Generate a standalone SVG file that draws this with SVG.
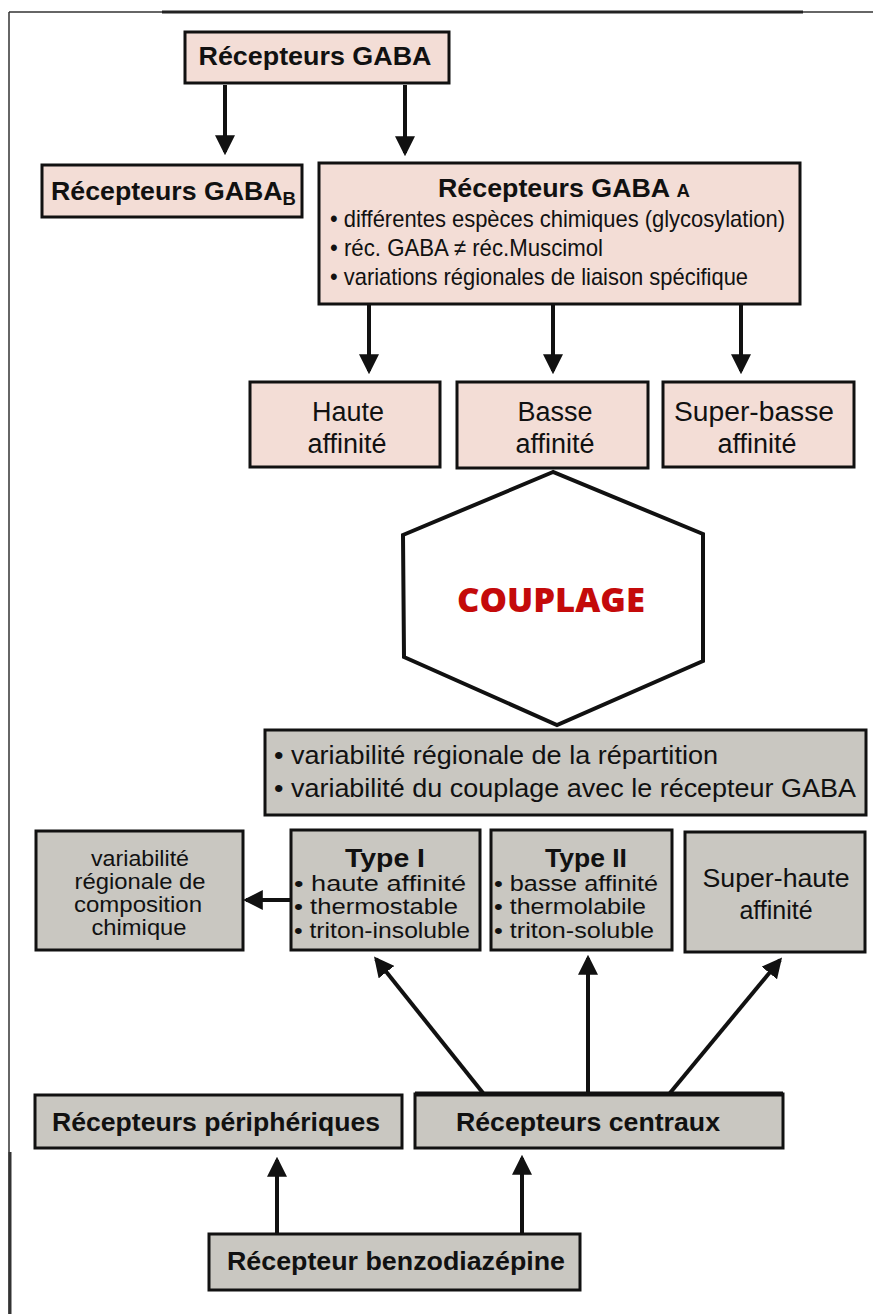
<svg xmlns="http://www.w3.org/2000/svg" width="873" height="1314" viewBox="0 0 873 1314">
<style>
.pink{fill:#f3ddd6;stroke:#111;stroke-width:3}
.gray{fill:#c9c7c1;stroke:#111;stroke-width:3}
.t{font-family:"Liberation Sans",Arial,sans-serif;fill:#111}
.b{font-weight:bold}
.c{text-anchor:middle}
.con{stroke:#111;stroke-width:4;fill:none}
</style>
<defs>
<marker id="ah" markerWidth="5" markerHeight="5" refX="4.2" refY="2.5" orient="auto" markerUnits="strokeWidth">
<path d="M0,0 L5,2.5 L0,5 Z" fill="#111"/>
</marker>
</defs>
<rect width="873" height="1314" fill="#fff"/>
<g id="frame">
<path d="M9,12 H873" stroke="#333" stroke-width="1.5" fill="none"/>
<path d="M162,12 H803" stroke="#222" stroke-width="3" fill="none"/>
<path d="M9,12 V1314" stroke="#333" stroke-width="1.5" fill="none"/>
<path d="M10,1152 V1314" stroke="#333" stroke-width="3" fill="none"/>
</g>
<g id="connectors">
<line class="con" x1="225" y1="85" x2="225" y2="152" marker-end="url(#ah)"/>
<line class="con" x1="405" y1="85" x2="405" y2="153" marker-end="url(#ah)"/>
<line class="con" x1="369" y1="305" x2="369" y2="371" marker-end="url(#ah)"/>
<line class="con" x1="553" y1="305" x2="553" y2="371" marker-end="url(#ah)"/>
<line class="con" x1="741" y1="305" x2="741" y2="371" marker-end="url(#ah)"/>
<line class="con" x1="291" y1="900" x2="246" y2="900" marker-end="url(#ah)"/>
<line class="con" x1="483" y1="1093" x2="376" y2="959" marker-end="url(#ah)"/>
<line class="con" x1="588" y1="1093" x2="588" y2="958" marker-end="url(#ah)"/>
<line class="con" x1="670" y1="1093" x2="780" y2="960" marker-end="url(#ah)"/>
<line class="con" x1="277" y1="1234" x2="277" y2="1160" marker-end="url(#ah)"/>
<line class="con" x1="522" y1="1234" x2="522" y2="1158" marker-end="url(#ah)"/>
</g>
<g id="gaba">
<rect class="pink" x="185" y="32" width="264" height="51"/>
<text class="t b c" x="315" y="65" font-size="25" textLength="233" lengthAdjust="spacingAndGlyphs">Récepteurs GABA</text>
</g>
<g id="gabab">
<rect class="pink" x="42" y="165" width="260" height="52"/>
<text class="t b" x="51" y="200" font-size="26" textLength="245" lengthAdjust="spacingAndGlyphs">Récepteurs GABA<tspan font-size="18" dy="5">B</tspan></text>
</g>
<g id="gabaa">
<rect class="pink" x="319" y="163" width="481" height="141"/>
<text class="t b" x="438" y="197" font-size="26" textLength="252" lengthAdjust="spacingAndGlyphs">Récepteurs GABA <tspan font-size="18">A</tspan></text>
<text class="t" x="330" y="227" font-size="24" textLength="455" lengthAdjust="spacingAndGlyphs">• différentes espèces chimiques (glycosylation)</text>
<text class="t" x="330" y="256" font-size="24" textLength="273" lengthAdjust="spacingAndGlyphs">• réc. GABA ≠ réc.Muscimol</text>
<text class="t" x="330" y="285" font-size="24" textLength="418" lengthAdjust="spacingAndGlyphs">• variations régionales de liaison spécifique</text>
</g>
<g id="haute">
<rect class="pink" x="250" y="382" width="190" height="85"/>
<text class="t c" x="348" y="421" font-size="27">Haute</text>
<text class="t c" x="347" y="453" font-size="27">affinité</text>
</g>
<g id="basse">
<rect class="pink" x="457" y="382" width="191" height="86"/>
<text class="t c" x="555" y="421" font-size="27">Basse</text>
<text class="t c" x="555" y="453" font-size="27">affinité</text>
</g>
<g id="superbasse">
<rect class="pink" x="663" y="382" width="191" height="85"/>
<text class="t c" x="754" y="421" font-size="27" textLength="160" lengthAdjust="spacingAndGlyphs">Super-basse</text>
<text class="t c" x="757" y="453" font-size="27">affinité</text>
</g>
<g id="couplage">
<polygon points="553,472 403,535 404,657 557,725 703,661 703,534" fill="#fff" stroke="#111" stroke-width="4"/>
<text x="551" y="612" text-anchor="middle" font-family="'Open Sans',sans-serif" font-weight="800" font-size="34" fill="#c40a0a" textLength="188" lengthAdjust="spacingAndGlyphs">COUPLAGE</text>
</g>
<g id="variabilite">
<rect class="gray" x="265" y="730" width="601" height="85"/>
<text class="t" x="274" y="764" font-size="25" textLength="444" lengthAdjust="spacingAndGlyphs">• variabilité régionale de la répartition</text>
<text class="t" x="274" y="797" font-size="25" textLength="582" lengthAdjust="spacingAndGlyphs">• variabilité du couplage avec le récepteur GABA</text>
</g>
<g id="composition">
<rect class="gray" x="36" y="831" width="207" height="119"/>
<text class="t c" x="140" y="866" font-size="22" textLength="98" lengthAdjust="spacingAndGlyphs">variabilité</text>
<text class="t c" x="140" y="889" font-size="22" textLength="131" lengthAdjust="spacingAndGlyphs">régionale de</text>
<text class="t c" x="138" y="912" font-size="22" textLength="128" lengthAdjust="spacingAndGlyphs">composition</text>
<text class="t c" x="139" y="935" font-size="22" textLength="95" lengthAdjust="spacingAndGlyphs">chimique</text>
</g>
<g id="type1">
<rect class="gray" x="291" y="830" width="189" height="120"/>
<text class="t b c" x="385" y="867" font-size="26" textLength="80" lengthAdjust="spacingAndGlyphs">Type I</text>
<text class="t" x="294" y="891" font-size="22" textLength="172" lengthAdjust="spacingAndGlyphs">• haute  affinité</text>
<text class="t" x="294" y="914" font-size="22" textLength="164" lengthAdjust="spacingAndGlyphs">• thermostable</text>
<text class="t" x="294" y="938" font-size="22" textLength="176" lengthAdjust="spacingAndGlyphs">• triton-insoluble</text>
</g>
<g id="type2">
<rect class="gray" x="491" y="830" width="181" height="120"/>
<text class="t b c" x="586" y="867" font-size="26" textLength="82" lengthAdjust="spacingAndGlyphs">Type II</text>
<text class="t" x="494" y="891" font-size="22" textLength="164" lengthAdjust="spacingAndGlyphs">• basse affinité</text>
<text class="t" x="494" y="914" font-size="22" textLength="152" lengthAdjust="spacingAndGlyphs">• thermolabile</text>
<text class="t" x="494" y="938" font-size="22" textLength="160" lengthAdjust="spacingAndGlyphs">• triton-soluble</text>
</g>
<g id="superhaute">
<rect class="gray" x="685" y="832" width="180" height="120"/>
<text class="t c" x="776" y="887" font-size="25" textLength="147" lengthAdjust="spacingAndGlyphs">Super-haute</text>
<text class="t c" x="776" y="919" font-size="25">affinité</text>
</g>
<g id="peripheriques">
<rect class="gray" x="35" y="1095" width="367" height="53"/>
<text class="t b c" x="216" y="1131" font-size="26" textLength="328" lengthAdjust="spacingAndGlyphs">Récepteurs périphériques</text>
</g>
<g id="centraux">
<rect class="gray" x="415" y="1094" width="368" height="54"/>
<line x1="415" y1="1094" x2="783" y2="1094" stroke="#111" stroke-width="5"/>
<text class="t b c" x="588" y="1131" font-size="26" textLength="264" lengthAdjust="spacingAndGlyphs">Récepteurs centraux</text>
</g>
<g id="benzo">
<rect class="gray" x="209" y="1234" width="371" height="56"/>
<text class="t b c" x="396" y="1270" font-size="26" textLength="338" lengthAdjust="spacingAndGlyphs">Récepteur benzodiazépine</text>
</g>
</svg>
